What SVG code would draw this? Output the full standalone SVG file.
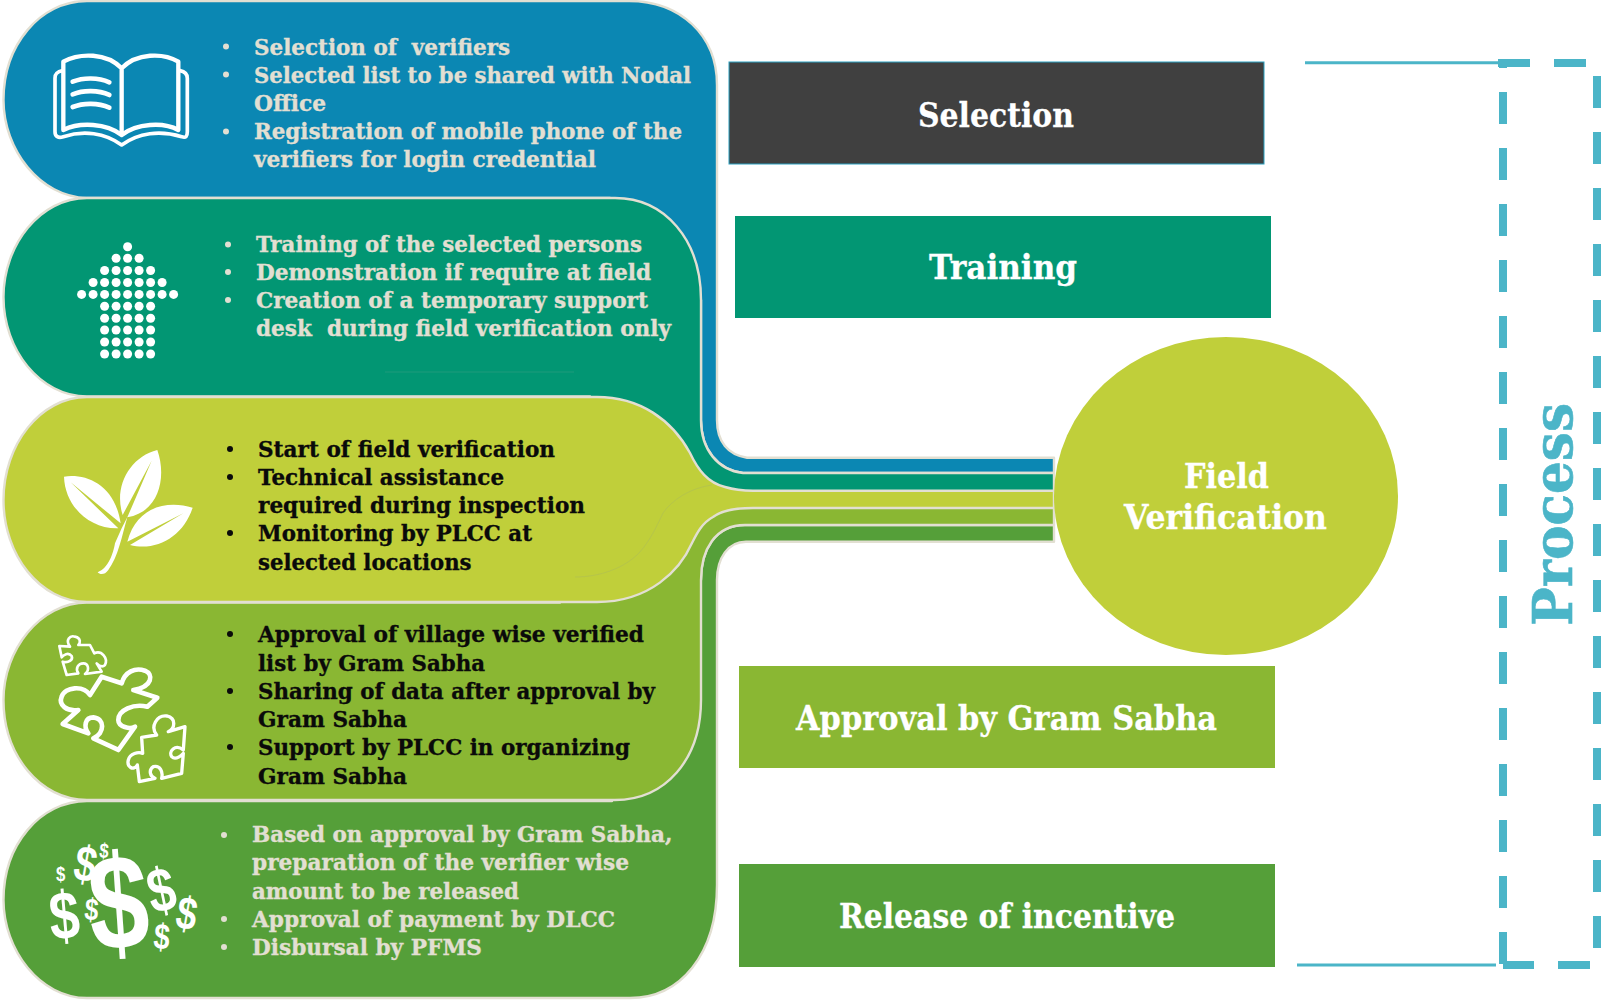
<svg xmlns="http://www.w3.org/2000/svg" width="1604" height="1000" viewBox="0 0 1604 1000">
<style>
text{font-family:"DejaVu Serif","Liberation Serif",serif;font-weight:700}
.p{stroke:#E2DFD2;stroke-width:2.400;stroke-linejoin:round}
.l{font-size:22.500px;fill:#E2DFD2;stroke:#E2DFD2;stroke-width:.35}
.d{font-size:22.500px;fill:#0A0A0A;stroke:#0A0A0A;stroke-width:.35}
.t{font-size:33px;fill:#FFF;stroke:#FFF;stroke-width:.3}
.bl{fill:#E2DFD2}
.bd{fill:#0A0A0A}
.dollar{font-family:"Liberation Sans",Arial,sans-serif;font-weight:700;fill:#FFF;text-anchor:middle}
.dash{fill:none;stroke:#4BB5C8;stroke-width:8;stroke-dasharray:32 24}
.w{fill:none;stroke:#FFF;stroke-linejoin:round;stroke-linecap:round}
</style>
<rect width="1604" height="1000" fill="#FFF"/>

<g id="panel-selection">
<path class="p" fill="#0B87B3" d="M87,1H629C680,1 717,35 717,85V420C717,442 728,455 747,457.7H1054V473H743C718,470 701,450 701,420V300H610V198H87C40,197 3.500,150 3.500,100C3.500,45 40,1 87,1Z"/>
</g>
<g id="panel-training">
<path class="p" fill="#029673" d="M87,198H615C665,198 701,240 701,300V420C701,450 718,470 743,473H1054V495H590V396.500H87C40,396 3.500,350 3.500,297C3.500,245 40,198 87,198Z"/>
<path d="M385,372H574" stroke="#1E9A7C" fill="none"/>
</g>
<g id="panel-release">
<path class="p" fill="#559F39" d="M87,801H612V650H690V580H701C701,550 715,525 745,525H1054V541.7H746C728,541.7 717,558 717,580V885C717,955 680,998 630,998H87C40,998 3.500,950 3.500,900C3.500,845 40,801 87,801Z"/>
</g>
<g id="panel-approval">
<path class="p" fill="#8AB733" d="M87,602.500H560V500H1054V525H745C715,525 701,550 701,580V700C701,760 665,800 615,800H87C40,800 3.500,755 3.500,700C3.500,650 40,602.500 87,602.500Z"/>
</g>
<g id="panel-verification">
<path class="p" fill="#C0CF3A" d="M87,397H597C640,397 672,420 690,453C698,470 708,483 725,487C735,490 745,490.7 753,490.7H1054V508H753C735,508 722,510 713,517C702,523 697,533 692,543C680,570 650,602 597,602H87C40,602 3.500,555 3.500,500C3.500,445 40,397 87,397Z"/>
<path d="M712,485C690,488 672,500 663,513C655,530 650,540 640,552C625,568 600,577 575,577" fill="none" stroke="#B6C54A"/>
</g>

<g id="text-selection">
<circle class="bl" cx="226" cy="46.5" r="3"/><circle class="bl" cx="226" cy="74.5" r="3"/><circle class="bl" cx="226" cy="131.5" r="3"/>
<text class="l" xml:space="preserve" x="254" y="54.5" textLength="256" lengthAdjust="spacingAndGlyphs">Selection of  verifiers</text>
<text class="l" x="254" y="82.5" textLength="437" lengthAdjust="spacingAndGlyphs">Selected list to be shared with Nodal</text>
<text class="l" x="254" y="111" textLength="72" lengthAdjust="spacingAndGlyphs">Office</text>
<text class="l" x="254" y="139" textLength="428" lengthAdjust="spacingAndGlyphs">Registration of mobile phone of the</text>
<text class="l" x="254" y="167" textLength="342" lengthAdjust="spacingAndGlyphs">verifiers for login credential</text>
</g>
<g id="text-training">
<circle class="bl" cx="228" cy="244.5" r="3"/><circle class="bl" cx="228" cy="272" r="3"/><circle class="bl" cx="228" cy="300" r="3"/>
<text class="l" x="256" y="252" textLength="386" lengthAdjust="spacingAndGlyphs">Training of the selected persons</text>
<text class="l" x="256" y="279.5" textLength="395" lengthAdjust="spacingAndGlyphs">Demonstration if require at field</text>
<text class="l" x="256" y="307.5" textLength="392" lengthAdjust="spacingAndGlyphs">Creation of a temporary support</text>
<text class="l" xml:space="preserve" x="256" y="335.500" textLength="415" lengthAdjust="spacingAndGlyphs">desk  during field verification only</text>
</g>
<g id="text-verification">
<circle class="bd" cx="230" cy="449" r="3"/><circle class="bd" cx="230" cy="477" r="3"/><circle class="bd" cx="230" cy="533" r="3"/>
<text class="d" x="258" y="457" textLength="297" lengthAdjust="spacingAndGlyphs">Start of field verification</text>
<text class="d" x="258" y="485" textLength="246" lengthAdjust="spacingAndGlyphs">Technical assistance</text>
<text class="d" x="258" y="513" textLength="327" lengthAdjust="spacingAndGlyphs">required during inspection</text>
<text class="d" x="258" y="541" textLength="274" lengthAdjust="spacingAndGlyphs">Monitoring by PLCC at</text>
<text class="d" x="258" y="569.500" textLength="213.500" lengthAdjust="spacingAndGlyphs">selected locations</text>
</g>
<g id="text-approval">
<circle class="bd" cx="230" cy="634" r="3"/><circle class="bd" cx="230" cy="691" r="3"/><circle class="bd" cx="230" cy="747" r="3"/>
<text class="d" x="258" y="642" textLength="386" lengthAdjust="spacingAndGlyphs">Approval of village wise verified</text>
<text class="d" x="258" y="670.500" textLength="227" lengthAdjust="spacingAndGlyphs">list by Gram Sabha</text>
<text class="d" x="258" y="698.500" textLength="397" lengthAdjust="spacingAndGlyphs">Sharing of data after approval by</text>
<text class="d" x="258" y="727" textLength="149" lengthAdjust="spacingAndGlyphs">Gram Sabha</text>
<text class="d" x="258" y="755" textLength="372" lengthAdjust="spacingAndGlyphs">Support by PLCC in organizing</text>
<text class="d" x="258" y="783.500" textLength="149" lengthAdjust="spacingAndGlyphs">Gram Sabha</text>
</g>
<g id="text-release">
<circle class="bl" cx="224" cy="835" r="3"/><circle class="bl" cx="224" cy="919" r="3"/><circle class="bl" cx="224" cy="947" r="3"/>
<text class="l" x="252" y="842" textLength="420.500" lengthAdjust="spacingAndGlyphs">Based on approval by Gram Sabha,</text>
<text class="l" x="252" y="870" textLength="377" lengthAdjust="spacingAndGlyphs">preparation of the verifier wise</text>
<text class="l" x="252" y="898.500" textLength="267" lengthAdjust="spacingAndGlyphs">amount to be released</text>
<text class="l" x="252" y="927" textLength="363" lengthAdjust="spacingAndGlyphs">Approval of payment by DLCC</text>
<text class="l" x="252" y="954.500" textLength="230" lengthAdjust="spacingAndGlyphs">Disbursal by PFMS</text>
</g>

<g id="icon-book" transform="translate(40 40) scale(.3333)">
<path class="w" stroke-width="13" d="M245,85C200,38 120,38 70,65V270C120,245 200,250 245,285C290,250 370,245 415,270V65C370,38 290,38 245,85V285"/>
<path class="w" stroke-width="11" d="M68,92C50,95 45,102 45,115V275C45,290 55,295 70,290C130,270 195,278 245,315C295,278 360,270 425,290C438,295 442,288 442,275V115C442,102 436,95 420,92"/>
<path class="w" stroke-width="14" d="M98,125C130,112 175,112 208,127M98,163C130,150 175,150 208,165M98,201C130,188 175,188 208,203"/>
</g>

<g id="icon-arrow" fill="#FFF">
<circle cx="127.600" cy="246.700" r="4.500"/>
<circle cx="116.100" cy="258.300" r="4.500"/><circle cx="127.600" cy="258.300" r="4.500"/><circle cx="139.100" cy="258.300" r="4.500"/>
<circle cx="104.600" cy="270.500" r="4.500"/><circle cx="116.100" cy="270.500" r="4.500"/><circle cx="127.600" cy="270.500" r="4.500"/><circle cx="139.100" cy="270.500" r="4.500"/><circle cx="150.600" cy="270.500" r="4.500"/>
<circle cx="93.100" cy="282.500" r="4.500"/><circle cx="104.600" cy="282.500" r="4.500"/><circle cx="116.100" cy="282.500" r="4.500"/><circle cx="127.600" cy="282.500" r="4.500"/><circle cx="139.100" cy="282.500" r="4.500"/><circle cx="150.600" cy="282.500" r="4.500"/><circle cx="162.100" cy="282.500" r="4.500"/>
<circle cx="81.600" cy="294.400" r="4.500"/><circle cx="93.100" cy="294.400" r="4.500"/><circle cx="104.600" cy="294.400" r="4.500"/><circle cx="116.100" cy="294.400" r="4.500"/><circle cx="127.600" cy="294.400" r="4.500"/><circle cx="139.100" cy="294.400" r="4.500"/><circle cx="150.600" cy="294.400" r="4.500"/><circle cx="162.100" cy="294.400" r="4.500"/><circle cx="173.600" cy="294.400" r="4.500"/>
<circle cx="104.600" cy="306.300" r="4.500"/><circle cx="116.100" cy="306.300" r="4.500"/><circle cx="127.600" cy="306.300" r="4.500"/><circle cx="139.100" cy="306.300" r="4.500"/><circle cx="150.600" cy="306.300" r="4.500"/>
<circle cx="104.600" cy="318.300" r="4.500"/><circle cx="116.100" cy="318.300" r="4.500"/><circle cx="127.600" cy="318.300" r="4.500"/><circle cx="139.100" cy="318.300" r="4.500"/><circle cx="150.600" cy="318.300" r="4.500"/>
<circle cx="104.600" cy="330" r="4.500"/><circle cx="116.100" cy="330" r="4.500"/><circle cx="127.600" cy="330" r="4.500"/><circle cx="139.100" cy="330" r="4.500"/><circle cx="150.600" cy="330" r="4.500"/>
<circle cx="104.600" cy="342" r="4.500"/><circle cx="116.100" cy="342" r="4.500"/><circle cx="127.600" cy="342" r="4.500"/><circle cx="139.100" cy="342" r="4.500"/><circle cx="150.600" cy="342" r="4.500"/>
<circle cx="104.600" cy="354" r="4.500"/><circle cx="116.100" cy="354" r="4.500"/><circle cx="127.600" cy="354" r="4.500"/><circle cx="139.100" cy="354" r="4.500"/><circle cx="150.600" cy="354" r="4.500"/>
</g>

<g id="icon-leaf" transform="translate(50 440) scale(.3333)" fill="#FFF">
<path d="M42,110C110,100 195,135 212,250L62,127L205,265C120,268 45,200 42,110Z"/>
<path d="M322,30C350,110 330,215 232,232L305,62L218,225C190,140 240,50 322,30Z"/>
<path d="M428,203C350,180 260,200 232,305L400,220L240,315C320,335 400,290 428,203Z"/>
<path d="M232,232C215,290 205,350 175,390C165,405 150,405 143,397C175,385 190,340 195,310L215,265Z"/>
</g>

<g id="icon-puzzle" transform="translate(50 630) scale(.3333)">
<path class="w" stroke-width="14" d="M120,195L155,140L215,160C225,125 255,112 285,122C310,132 310,170 250,180L322,203L292,230C250,220 205,240 205,270C205,290 240,300 255,290L205,360L130,325C165,310 165,265 130,262C105,262 100,290 115,310L38,282L85,240C50,245 25,225 35,200C45,170 100,165 120,195Z"/>
<path class="w" stroke-width="8" d="M28,48L60,50C45,30 60,15 75,20C95,25 90,40 85,45L120,45L133,70C155,60 175,85 165,105C155,115 145,105 140,100L155,125L105,132C120,120 115,100 100,100C85,100 75,115 85,130L50,135L38,95C55,100 70,90 65,78C55,65 40,75 35,82Z"/>
<path class="w" stroke-width="10" d="M275,322L320,315C300,290 320,255 350,258C380,265 375,295 355,305L405,290L400,360C375,340 355,365 365,380C375,390 390,380 400,370L395,430L335,445C340,425 330,405 310,410C295,420 300,440 315,445L268,455L262,405C250,425 230,410 235,390C240,370 265,365 278,370Z"/>
</g>

<g id="icon-dollars">
<text class="dollar" font-size="135" transform="translate(121.700 949) rotate(-4) scale(.8 1)">$</text>
<text class="dollar" font-size="50" transform="translate(82.700 881) rotate(10) scale(.8 1)">$</text>
<text class="dollar" font-size="21" transform="translate(103.300 858) rotate(5) scale(.8 1)">$</text>
<text class="dollar" font-size="21" transform="translate(60.700 881) scale(.8 1)">$</text>
<text class="dollar" font-size="68" transform="translate(66.300 939) rotate(-5) scale(.8 1)">$</text>
<text class="dollar" font-size="31" transform="translate(90.700 920) rotate(5) scale(.8 1)">$</text>
<text class="dollar" font-size="62" transform="translate(165.700 911) rotate(-12) scale(.8 1)">$</text>
<text class="dollar" font-size="46" transform="translate(184 929) rotate(10) scale(.8 1)">$</text>
<text class="dollar" font-size="36" transform="translate(160.700 949) rotate(5) scale(.8 1)">$</text>
</g>

<g id="node-selection">
<rect x="729" y="62" width="535" height="102" fill="#404040" stroke="#2AA0C0"/>
<text class="t" x="918" y="127" textLength="156" lengthAdjust="spacingAndGlyphs">Selection</text>
</g>
<g id="node-training">
<rect x="735" y="216" width="536" height="102" fill="#029673"/>
<text class="t" x="929" y="279" textLength="148" lengthAdjust="spacingAndGlyphs">Training</text>
</g>
<g id="node-field-verification">
<ellipse cx="1226" cy="496" rx="172" ry="159" fill="#C0CF3A"/>
<text class="t" x="1184" y="488" textLength="85" lengthAdjust="spacingAndGlyphs">Field</text>
<text class="t" x="1124" y="529" textLength="203" lengthAdjust="spacingAndGlyphs">Verification</text>
</g>
<g id="node-approval">
<rect x="739" y="666" width="536" height="102" fill="#8AB733"/>
<text class="t" x="796" y="730" textLength="421" lengthAdjust="spacingAndGlyphs">Approval by Gram Sabha</text>
</g>
<g id="node-release">
<rect x="739" y="864" width="536" height="103" fill="#559F39"/>
<text class="t" x="839" y="928" textLength="336" lengthAdjust="spacingAndGlyphs">Release of incentive</text>
</g>
<g id="node-process">
<path class="dash" d="M1498,63H1597V965H1503"/>
<path class="dash" d="M1503,964V60"/>
<text x="1572" y="626" font-size="54" fill="#4BB5C8" stroke="#4BB5C8" stroke-width=".6" transform="rotate(-90 1572 626)" textLength="223" lengthAdjust="spacingAndGlyphs">Process</text>
</g>
<g id="connectors" stroke="#4BB5C8" stroke-width="3" fill="none">
<path d="M1305,62.700H1503"/>
<path d="M1297,965H1496"/>
</g>
</svg>
